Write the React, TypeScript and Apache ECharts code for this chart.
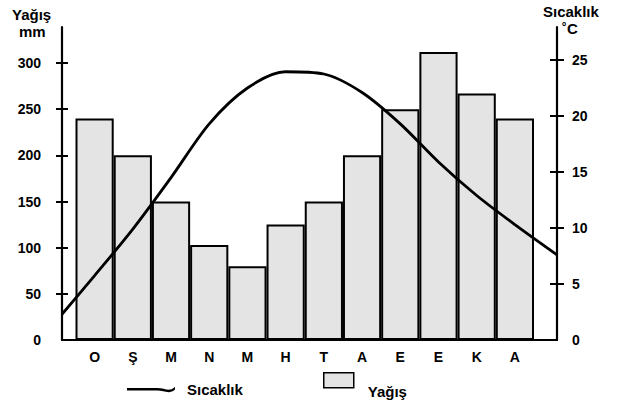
import React, { useEffect, useRef } from "react";
import * as echarts from "echarts";

const months = ["O", "Ş", "M", "N", "M", "H", "T", "A", "E", "E", "K", "A"];
const rainfall = [240, 200, 150, 103, 80, 125, 150, 200, 250, 312, 267, 240];
const temperature = [5.75, 9.9, 14.5, 19.3, 22.5, 23.95, 23.75, 22.1, 19.3, 15.9, 12.9, 10.3];
const tempAtLeftEdge = 2.3;
const tempAtRightEdge = 7.6;
const rainTicks = [0, 50, 100, 150, 200, 250, 300];
const tempTicks = [0, 5, 10, 15, 20, 25];

// geometry (pixels)
const AXIS_LEFT = 62;
const AXIS_RIGHT = 557;
const BARS_LEFT = 75.5;
const BARS_RIGHT = 534;
const TOP = 27;
const BOTTOM = 340;
const W = 622;
const H = 403;

const FONT = "Liberation Sans, Arial, sans-serif";

const WAVE_ICON =
  "path://M0,3 L30,3 C36,3 39,5 43,4.6 C45.5,4.3 46.5,3 48,1.8 L48,4.6 C46.5,5.8 45,7.2 42,7.2 C37.5,7.2 35,5.6 30,5.6 L0,5.6 Z";

export default function App() {
  const ref = useRef<HTMLDivElement>(null);
  useEffect(() => {
    if (!ref.current) return;
    const chart = echarts.init(ref.current, undefined, { renderer: "svg" });
    const catW = (BARS_RIGHT - BARS_LEFT) / months.length;
    const xMin = (AXIS_LEFT - BARS_LEFT) / catW - 0.5;
    const xMax = (AXIS_RIGHT - BARS_LEFT) / catW - 0.5;
    const linePts: [number, number][] = [[xMin, tempAtLeftEdge]];
    temperature.forEach((t, i) => linePts.push([i, t]));
    linePts.push([xMax, tempAtRightEdge]);

    const rainMax = (300 * (BOTTOM - TOP)) / (BOTTOM - 63);
    const tempMax = (25 * (BOTTOM - TOP)) / (BOTTOM - 60);

    const lbl = { color: "#000", fontFamily: FONT, fontSize: 14, fontWeight: "bold" as const };
    const axisLine = { show: true, onZero: false, lineStyle: { color: "#000", width: 2.2 } };
    const tickStyle = { color: "#000", width: 2 };

    chart.setOption({
      animation: false,
      backgroundColor: "#fff",
      grid: [
        { left: AXIS_LEFT, right: W - AXIS_RIGHT, top: TOP, bottom: H - BOTTOM },
        { left: BARS_LEFT, right: W - BARS_RIGHT, top: TOP, bottom: H - BOTTOM },
      ],
      xAxis: [
        {
          gridIndex: 0,
          type: "value",
          min: xMin,
          max: xMax,
          axisLine,
          axisTick: { show: false },
          axisLabel: { show: false },
          splitLine: { show: false },
        },
        {
          gridIndex: 1,
          type: "category",
          data: months,
          axisLine: { show: false },
          axisTick: { show: false },
          axisLabel: { ...lbl, margin: 10 },
          splitLine: { show: false },
        },
      ],
      yAxis: [
        {
          gridIndex: 0,
          position: "left",
          type: "value",
          min: 0,
          max: rainMax,
          axisLine,
          axisTick: { show: true, inside: false, length: 6, customValues: rainTicks.slice(1), lineStyle: tickStyle },
          axisLabel: { ...lbl, margin: 21, customValues: rainTicks },
          splitLine: { show: false },
        },
        {
          gridIndex: 0,
          position: "left",
          type: "value",
          min: 0,
          max: rainMax,
          axisLine: { show: false, onZero: false },
          axisTick: { show: true, inside: true, length: 6, customValues: rainTicks.slice(1), lineStyle: tickStyle },
          axisLabel: { show: false },
          splitLine: { show: false },
        },
        {
          gridIndex: 0,
          position: "right",
          type: "value",
          min: 0,
          max: tempMax,
          axisLine,
          axisTick: { show: true, inside: false, length: 7, customValues: tempTicks.slice(1), lineStyle: tickStyle },
          axisLabel: { ...lbl, margin: 15, customValues: tempTicks },
          splitLine: { show: false },
        },
        {
          gridIndex: 0,
          position: "right",
          type: "value",
          min: 0,
          max: tempMax,
          axisLine: { show: false, onZero: false },
          axisTick: { show: true, inside: true, length: 7, customValues: tempTicks.slice(1), lineStyle: tickStyle },
          axisLabel: { show: false },
          splitLine: { show: false },
        },
        {
          gridIndex: 1,
          type: "value",
          min: 0,
          max: rainMax,
          show: false,
        },
      ],
      legend: [
        {
          data: [{ name: "Sıcaklık", icon: WAVE_ICON }],
          left: 127,
          top: 382,
          padding: 0,
          itemWidth: 48,
          itemHeight: 8,
          itemGap: 10,
          formatter: "{t|{name}}",
          textStyle: {
            ...lbl,
            fontSize: 15,
            rich: { t: { ...lbl, fontSize: 15, padding: [0, 0, 0, 7] } },
          },
        },
        {
          data: ["Yağış"],
          left: 323,
          top: 372,
          padding: 0,
          icon: "rect",
          itemWidth: 30,
          itemHeight: 15,
          itemGap: 10,
          itemStyle: { borderWidth: 1.5 },
          formatter: "{t|{name}}",
          textStyle: {
            ...lbl,
            fontSize: 15,
            rich: { t: { ...lbl, fontSize: 15, padding: [22, 0, 0, 9] } },
          },
        },
      ],
      graphic: [
        { type: "text", left: 12, top: 7, style: { text: "Yağış", font: `bold 15px ${FONT}`, fill: "#000" } },
        { type: "text", left: 19, top: 24, style: { text: "mm", font: `bold 15px ${FONT}`, fill: "#000" } },
        { type: "text", left: 543, top: 4, style: { text: "Sıcaklık", font: `bold 15px ${FONT}`, fill: "#000" } },
        { type: "text", left: 562, top: 21, style: { text: "˚C", font: `bold 15px ${FONT}`, fill: "#000" } },
      ],
      series: [
        {
          name: "Yağış",
          type: "bar",
          xAxisIndex: 1,
          yAxisIndex: 4,
          data: rainfall,
          barCategoryGap: "0%",
          itemStyle: { color: "#e4e4e4", borderColor: "#000", borderWidth: 2 },
          z: 2,
        },
        {
          name: "Sıcaklık",
          type: "line",
          xAxisIndex: 0,
          yAxisIndex: 2,
          data: linePts,
          smooth: 0.3,
          symbol: "none",
          lineStyle: { color: "#000", width: 2.8 },
          itemStyle: { color: "#000" },
          z: 3,
        },
      ],
    });
    return () => chart.dispose();
  }, []);
  return <div ref={ref} style={{ position: "fixed", left: 0, top: 0, width: W, height: H }} />;
}
